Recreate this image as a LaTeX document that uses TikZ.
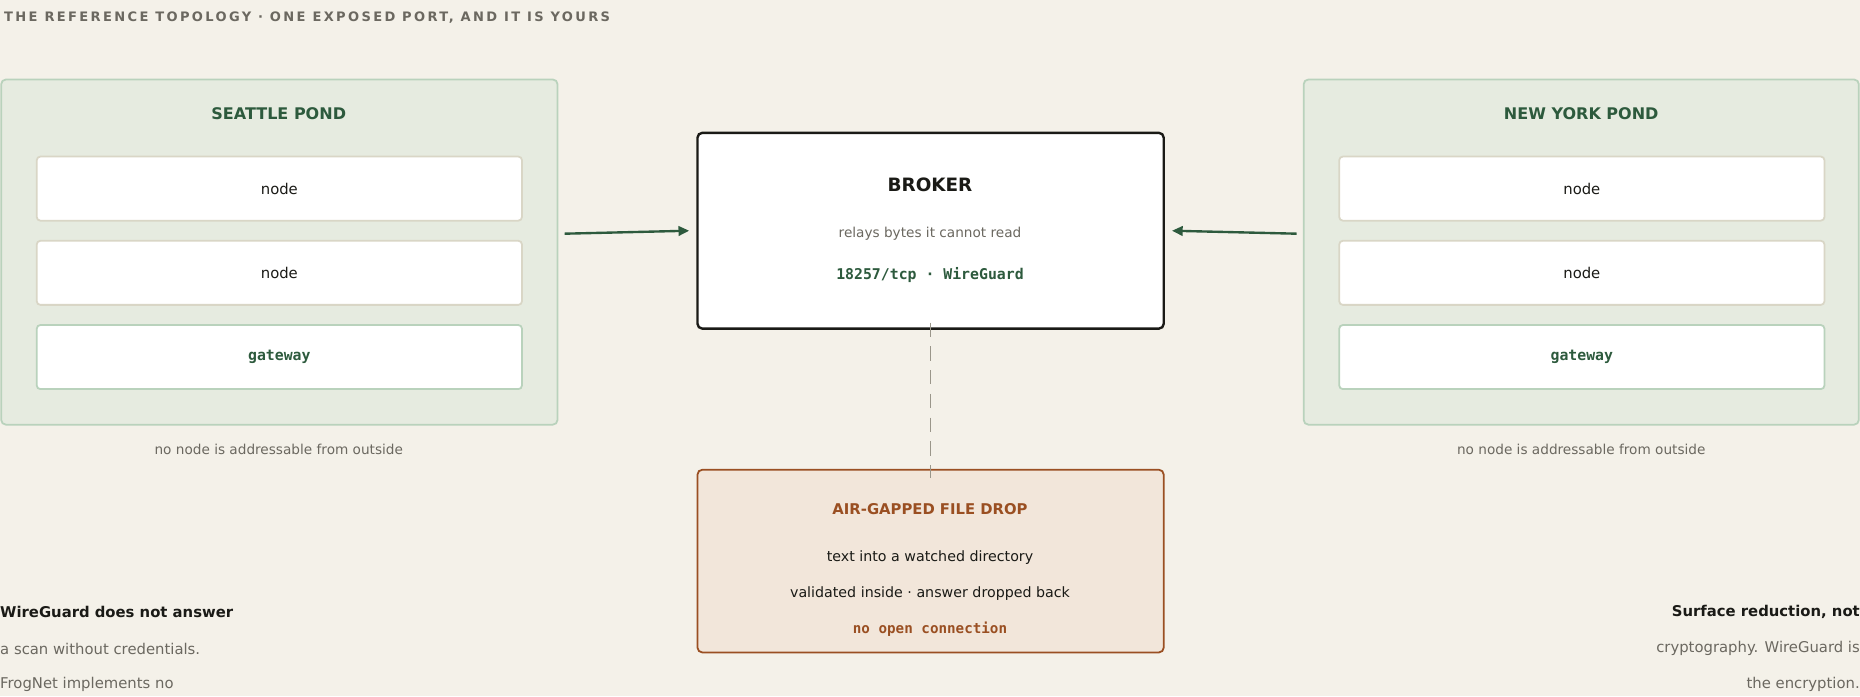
\documentclass[tikz,border=0pt]{standalone}
\usepackage{fontspec}
\setmainfont{DejaVu Sans}
\setmonofont{DejaVu Sans Mono}
\usetikzlibrary{arrows.meta}
\definecolor{bg}{HTML}{F4F1E9}
\definecolor{grn}{HTML}{2D5A3D}
\definecolor{pond}{HTML}{E6EBE0}
\definecolor{pondb}{HTML}{B9D2BC}
\definecolor{nodeb}{HTML}{D9D6C6}
\definecolor{gry}{HTML}{6B6860}
\definecolor{brn}{HTML}{9A4F22}
\definecolor{drop}{HTML}{F2E6DA}
\definecolor{dashcol}{HTML}{9A968A}
\definecolor{ink}{HTML}{1A1A16}
\begin{document}
\begin{tikzpicture}[x=1pt,y=-1pt,
  pondbox/.style={draw=pondb,fill=pond,line width=1.5pt,rounded corners=4pt},
  nbox/.style={draw=nodeb,fill=white,line width=1.5pt,rounded corners=3pt,minimum width=409pt,minimum height=54pt,font=\fontsize{12.5}{14}\selectfont,text=ink},
  gbox/.style={nbox,draw=pondb,font=\ttfamily\bfseries\fontsize{12.5}{14}\selectfont,text=grn},
  ptitle/.style={font=\bfseries\fontsize{13.5}{16}\selectfont,text=grn},
  captxt/.style={font=\fontsize{11.5}{14}\selectfont,text=gry},
  arr/.style={draw=grn,line width=2pt,-{Triangle[length=9pt,width=8pt]}}]
\fill[bg] (0,0) rectangle (1568,587);
\useasboundingbox (0,0) rectangle (1568,587);
\node[anchor=west,font=\bfseries\fontsize{11}{13}\selectfont\addfontfeatures{LetterSpace=18},text=gry] (title) at (0,15) {THE REFERENCE TOPOLOGY · ONE EXPOSED PORT, AND IT IS YOURS};
% Seattle
\draw[pondbox] (1,67) rectangle (470,358);
\coordinate (seaE) at (476,197);
\node[ptitle] (seat) at (235,96) {SEATTLE POND};
\node[nbox] (s1) at (235.5,159) {node};
\node[nbox] (s2) at (235.5,230) {node};
\node[gbox] (s3) at (235.5,301) {gateway};
\node[captxt] (sc) at (235,379) {no node is addressable from outside};
% NY
\draw[pondbox] (1099,67) rectangle (1567,358);
\coordinate (nyW) at (1093,197);
\node[ptitle] (nyt) at (1333,96) {NEW YORK POND};
\node[nbox] (n1) at (1333.5,159) {node};
\node[nbox] (n2) at (1333.5,230) {node};
\node[gbox] (n3) at (1333.5,301) {gateway};
\node[captxt] (nc) at (1333,379) {no node is addressable from outside};
% Broker
\node[draw=ink,fill=white,line width=2pt,rounded corners=4pt,minimum width=393pt,minimum height=165pt] (broker) at (784.5,194.5) {};
\node[font=\bfseries\fontsize{15.5}{18}\selectfont,text=ink] (bt) at (784,156) {BROKER};
\node[captxt] (bs) at (784,197) {relays bytes it cannot read};
\node[font=\ttfamily\bfseries\fontsize{12.5}{14}\selectfont,text=grn] (bp) at (784,232) {18257/tcp · WireGuard};
\draw[arr] (seaE) -- ([xshift=-6pt]broker.west);
\draw[arr] (nyW) -- ([xshift=6pt]broker.east);
% Drop
\node[draw=brn,fill=drop,line width=1.5pt,rounded corners=4pt,minimum width=393pt,minimum height=154pt] (drop) at (784.5,473) {};
\draw[draw=dashcol,line width=1.5pt,dash pattern=on 12pt off 8pt] ([yshift=6pt]broker.south) -- ([yshift=-8pt]drop.north);
\node[font=\bfseries\fontsize{12.5}{15}\selectfont,text=brn] (dt) at (784,429) {AIR-GAPPED FILE DROP};
\node[font=\fontsize{12}{14}\selectfont,text=ink] (d1) at (784,470) {text into a watched directory};
\node[font=\fontsize{12}{14}\selectfont,text=ink] (d2) at (784,500) {validated inside · answer dropped back};
\node[font=\ttfamily\bfseries\fontsize{12}{14}\selectfont,text=brn] (d3) at (784,530) {no open connection};
% side notes
\node[anchor=west,inner sep=0pt,font=\bfseries\fontsize{12.5}{15}\selectfont,text=ink] (l1) at (0,516) {WireGuard does not answer};
\node[anchor=west,inner sep=0pt,font=\fontsize{12.5}{15}\selectfont,text=gry] (l2) at (0,547) {a scan without credentials.};
\node[anchor=west,inner sep=0pt,font=\fontsize{12.5}{15}\selectfont,text=gry] (l3) at (0,577) {FrogNet implements no};
\node[anchor=east,inner sep=0pt,font=\bfseries\fontsize{12.5}{15}\selectfont,text=ink] (r1) at (1568,516) {Surface reduction, not};
\node[anchor=east,inner sep=0pt,font=\fontsize{12.5}{15}\selectfont,text=gry] (r2) at (1568,547) {cryptography. WireGuard is};
\node[anchor=east,inner sep=0pt,font=\fontsize{12.5}{15}\selectfont,text=gry] (r3) at (1568,577) {the encryption.};
\end{tikzpicture}
\end{document}
